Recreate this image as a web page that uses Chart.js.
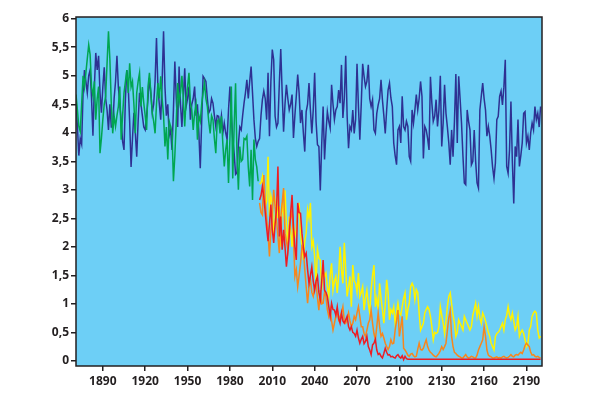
<!DOCTYPE html>
<html>
<head>
<meta charset="utf-8">
<script src="https://cdn.jsdelivr.net/npm/chart.js@4/dist/chart.umd.min.js"></script>
<style>
  html, body { margin: 0; padding: 0; background: #ffffff; }
  canvas { display: block; }
</style>
</head>
<body>
<canvas id="chart" width="600" height="398"></canvas>
<script>
// tick positions
var xTicks = [1890, 1920, 1950, 1980, 2010, 2040, 2070, 2100, 2130, 2160, 2190];
var yTicks = [0, 0.5, 1, 1.5, 2, 2.5, 3, 3.5, 4, 4.5, 5, 5.5, 6];

// first year of each series, one value per year after that
var navyStart = 1871;
var greenStart = 1871;
var scenarioStart = 2001;

var navy = [
  4.6, 4.1, 3.6, 3.9, 3.8, 4.7, 5.1, 4.9, 4.7, 5.0,
  5.1, 4.6, 3.95, 4.8, 5.4, 5.1, 5.35, 4.7, 4.35, 4.8,
  5.15, 4.6, 4.4, 4.05, 4.5, 4.1, 4.1, 4.6, 4.9, 5.35,
  4.8, 4.5, 4.2, 3.85, 3.7, 4.6, 5.1, 4.8, 4.2, 3.4,
  3.9, 4.35, 4.0, 3.58, 4.2, 4.7, 4.5, 4.3, 4.1, 4.05,
  4.3, 4.6, 4.96, 4.7, 4.35, 4.5, 4.9, 5.66, 4.8, 4.5,
  4.23, 4.9, 5.78, 4.8, 4.3, 4.5, 3.95, 4.05, 3.7, 4.4,
  5.25, 4.6, 4.1, 5.16, 4.5, 4.1, 4.6, 5.13, 4.46, 4.6,
  4.81, 4.23, 4.5, 4.6, 4.81, 4.3, 4.5, 4.0, 3.38, 4.2,
  4.99, 4.95, 4.9, 4.6, 4.35, 4.4, 4.6, 4.52, 4.3, 4.11,
  4.3, 4.29, 4.1, 4.3, 4.0, 4.17, 4.0, 3.88, 4.4, 4.81,
  4.3, 3.9, 3.64, 3.27, 3.3, 3.8, 4.1, 4.05, 4.3, 4.52,
  4.7, 4.93, 4.6, 4.9, 5.16, 4.7, 4.23, 3.9, 3.76, 3.85,
  3.9, 4.3, 4.58, 4.73, 4.6, 4.23, 5.05, 3.94, 4.9, 5.46,
  5.28, 4.29, 4.1, 4.17, 4.87, 5.47, 4.7, 4.02, 4.5, 4.84,
  4.6, 4.4, 4.5, 4.67, 3.91, 4.3, 4.64, 5.02, 4.7, 4.17,
  4.4, 4.0, 3.67, 4.37, 4.5, 4.87, 4.4, 3.99, 4.4, 5.05,
  4.2, 3.79, 3.76, 2.99, 3.8, 4.46, 3.53, 4.0, 4.37, 4.2,
  4.08, 4.84, 4.5, 4.23, 4.4, 4.46, 4.75, 4.52, 5.19, 4.26,
  4.6, 5.35, 4.3, 3.73, 4.11, 4.05, 4.4, 3.99, 4.23, 5.21,
  4.46, 3.88, 4.5, 5.21, 4.99, 4.81, 4.9, 5.19, 4.6, 4.46,
  4.58, 4.05, 3.99, 4.34, 4.49, 4.6, 4.93, 4.58, 4.3, 3.99,
  4.4, 4.75, 4.87, 4.61, 4.46, 3.82, 3.6, 3.44, 4.05, 4.11,
  3.82, 4.64, 4.11, 4.05, 4.2, 4.11, 3.58, 3.5, 4.4, 4.17,
  4.4, 4.67, 4.4, 4.6, 4.9, 4.64, 3.55, 4.11, 4.05, 3.9,
  3.7, 4.98, 4.52, 4.2, 4.29, 4.58, 4.11, 4.4, 5.0, 3.76,
  4.17, 4.84, 4.34, 4.1, 3.82, 3.44, 4.05, 3.58, 4.2, 5.03,
  3.82, 4.99, 4.6, 4.17, 3.6, 3.12, 3.09, 4.4, 4.2, 4.05,
  3.44, 3.5, 4.05, 3.5, 3.12, 3.03, 4.4, 4.64, 4.87, 4.6,
  4.4, 3.94, 4.11, 3.94, 3.7, 3.4, 3.2, 3.47, 4.23, 4.29,
  4.64, 4.73, 4.49, 4.8, 5.28, 3.41, 3.29, 3.7, 4.55, 3.5,
  2.76, 3.76, 3.58, 4.23, 3.41, 3.6, 3.82, 4.34, 4.37, 3.82,
  3.94, 3.7, 4.0, 4.17, 4.05, 4.46, 4.23, 4.34, 4.1, 4.46
];

var green = [
  4.67, 4.4, 4.11, 4.02, 4.5, 5.0, 4.8, 5.05, 5.3, 5.54,
  5.37, 4.81, 4.64, 4.9, 4.23, 4.6, 4.81, 3.64, 3.9, 4.23,
  4.5, 4.64, 5.22, 5.78, 5.28, 4.5, 3.99, 4.3, 4.11, 4.3,
  4.46, 4.81, 3.88, 4.3, 4.7, 4.9, 5.1, 4.7, 5.22, 4.8,
  4.9, 4.5, 3.99, 4.7, 4.9, 5.05, 4.46, 4.8, 4.52, 4.3,
  4.05, 4.81, 5.05, 4.7, 4.35, 4.2, 3.99, 4.5, 4.87, 4.6,
  4.99, 4.6, 4.3, 3.76, 4.1, 3.53, 4.2, 4.11, 4.0, 3.15,
  3.6, 4.2, 4.87, 4.52, 4.7, 5.0, 4.6, 4.11, 4.6, 4.81,
  5.05, 4.52, 4.4, 4.05, 4.35, 4.5, 3.88, 4.3, 4.2, 4.5,
  4.7, 4.87, 4.6, 4.46, 4.2, 3.99, 4.3, 4.23, 3.9, 3.64,
  4.2, 4.23, 3.99, 4.29, 3.8, 3.41, 3.7, 3.88, 3.12, 3.9,
  4.81, 3.2, 4.11, 4.87, 3.6, 3.0, 3.76, 3.5, 3.53, 3.9,
  3.88, 3.94, 3.4, 3.06, 3.7, 2.82, 3.88, 3.53, 3.4, 3.15
];

var yellow = [
  3.1, 3.12, 3.23, 2.9, 2.7, 2.8, 3.58, 2.53, 2.9, 2.77,
  2.2, 2.5, 2.88, 2.5, 2.71, 2.0, 2.77, 2.6, 2.99, 2.4,
  2.0, 2.53, 2.3, 2.0, 2.4, 2.18, 2.3, 2.53, 2.77, 2.24,
  2.0, 1.77, 2.1, 2.24, 2.65, 2.5, 2.77, 2.0, 2.1, 1.83,
  1.36, 1.95, 1.8, 1.77, 1.24, 1.6, 1.48, 1.54, 1.3, 1.13,
  1.5, 1.71, 1.24, 1.4, 1.48, 1.19, 1.5, 2.0, 1.6, 1.36,
  2.07, 1.6, 1.13, 1.3, 1.48, 0.95, 1.68, 1.4, 1.36, 1.2,
  1.54, 1.13, 1.2, 1.3, 0.89, 1.1, 1.24, 1.0, 0.84, 1.25,
  1.5, 1.68, 0.95, 1.1, 0.9, 1.36, 1.1, 0.9, 0.66, 1.0,
  1.42, 1.2, 0.72, 0.9, 0.84, 0.95, 0.66, 0.85, 1.01, 0.84,
  0.8, 0.95, 1.1, 1.19, 0.72, 0.9, 1.01, 1.3, 1.36, 1.3,
  1.07, 1.25, 1.2, 0.84, 0.54, 0.6, 0.66, 0.84, 0.9, 0.95,
  0.9, 0.78, 0.6, 0.37, 0.5, 0.48, 0.5, 0.6, 0.95, 0.8,
  0.66, 0.48, 0.7, 0.95, 1.13, 1.19, 1.0, 0.8, 0.66, 0.43,
  0.5, 0.72, 0.66, 0.6, 0.54, 0.78, 0.72, 0.66, 0.6, 0.54,
  0.6, 0.8, 0.9, 1.01, 0.78, 0.95, 0.75, 0.66, 0.84, 0.78,
  0.7, 0.6, 0.5, 0.43, 0.31, 0.25, 0.19, 0.43, 0.48, 0.5,
  0.54, 0.6, 0.66, 0.54, 0.72, 0.8, 0.95, 0.8, 0.72, 0.84,
  0.7, 0.54, 0.6, 0.78, 0.43, 0.5, 0.54, 0.48, 0.37, 0.25,
  0.3, 0.54, 0.6, 0.78, 0.84, 0.87, 0.84, 0.54, 0.4, 0.43
];

var orange = [
  2.77, 2.6, 2.56, 3.26, 2.8, 2.5, 2.24, 1.83, 2.3, 2.6,
  3.0, 2.7, 2.47, 2.18, 1.89, 2.5, 2.77, 3.03, 2.24, 2.1,
  1.95, 2.36, 2.5, 2.65, 2.18, 1.48, 1.6, 1.3, 1.5, 1.71,
  2.0, 1.95, 1.6, 1.3, 1.01, 1.3, 1.42, 1.2, 1.13, 1.3,
  1.36, 1.1, 0.89, 1.24, 1.0, 1.01, 1.2, 1.13, 0.9, 0.78,
  0.9, 0.7, 0.54, 0.66, 0.78, 0.89, 0.72, 0.78, 0.84, 0.95,
  0.7, 0.66, 0.72, 0.84, 0.7, 0.6, 0.66, 0.78, 0.72, 0.84,
  0.95, 0.78, 0.6, 0.6, 0.48, 0.43, 0.54, 0.66, 0.72, 0.89,
  0.66, 0.48, 0.37, 0.6, 0.84, 0.6, 0.43, 0.48, 0.4, 0.31,
  0.25, 0.2, 0.25, 0.37, 0.3, 0.31, 0.54, 0.7, 0.89, 0.43,
  0.6, 0.78, 0.22, 0.19, 0.15, 0.1, 0.08, 0.12, 0.13, 0.09,
  0.07, 0.08, 0.2, 0.31, 0.2, 0.19, 0.22, 0.3, 0.37, 0.25,
  0.19, 0.15, 0.13, 0.1, 0.08, 0.07, 0.1, 0.13, 0.18, 0.25,
  0.2, 0.25, 0.31, 0.54, 0.75, 0.88, 0.43, 0.25, 0.15, 0.13,
  0.1, 0.08, 0.07, 0.05, 0.05, 0.08, 0.11, 0.07, 0.05, 0.06,
  0.08, 0.07, 0.05, 0.05, 0.1, 0.19, 0.25, 0.31, 0.37, 0.6,
  0.43, 0.19, 0.1, 0.08, 0.07, 0.05, 0.05, 0.06, 0.07, 0.05,
  0.06, 0.05, 0.07, 0.08, 0.06, 0.05, 0.06, 0.08, 0.11, 0.08,
  0.07, 0.1, 0.11, 0.1, 0.13, 0.15, 0.13, 0.19, 0.27, 0.31,
  0.28, 0.25, 0.15, 0.1, 0.11, 0.08, 0.07, 0.08, 0.06, 0.05
];

var red = [
  2.82, 2.9, 3.06, 2.88, 2.6, 2.33, 2.1, 2.4, 2.74, 2.3,
  2.07, 2.4, 2.65, 3.41, 2.18, 2.53, 1.95, 2.3, 2.0, 1.65,
  1.9, 2.18, 2.6, 2.91, 2.36, 2.0, 1.77, 2.77, 2.6, 2.59,
  2.24, 2.0, 1.83, 1.89, 1.6, 1.36, 1.5, 1.65, 1.4, 1.24,
  1.4, 1.48, 1.2, 1.07, 1.4, 1.77, 1.24, 1.2, 1.13, 0.95,
  0.78, 1.01, 0.9, 0.89, 0.8, 0.95, 0.75, 0.66, 0.84, 0.7,
  0.66, 0.72, 0.78, 0.6, 0.54, 0.6, 0.5, 0.48, 0.43, 0.54,
  0.4, 0.31, 0.38, 0.43, 0.3, 0.34, 0.43, 0.25, 0.19, 0.11,
  0.28, 0.31, 0.38, 0.19, 0.11, 0.13, 0.08, 0.05, 0.13, 0.22,
  0.15, 0.1, 0.11, 0.07, 0.08, 0.06, 0.05, 0.09, 0.11, 0.07,
  0.05, 0.09, 0.02, 0.08, 0.04, 0.03, 0.03, 0.03, 0.03, 0.03,
  0.03, 0.03, 0.03, 0.03, 0.03, 0.03, 0.03, 0.03, 0.03, 0.03,
  0.03, 0.03, 0.03, 0.03, 0.03, 0.03, 0.03, 0.03, 0.03, 0.03,
  0.03, 0.03, 0.03, 0.03, 0.03, 0.03, 0.03, 0.03, 0.03, 0.03,
  0.03, 0.03, 0.03, 0.03, 0.03, 0.03, 0.03, 0.03, 0.03, 0.03,
  0.03, 0.03, 0.03, 0.03, 0.03, 0.03, 0.03, 0.03, 0.03, 0.03,
  0.03, 0.03, 0.03, 0.03, 0.03, 0.03, 0.03, 0.03, 0.03, 0.03,
  0.03, 0.03, 0.03, 0.03, 0.03, 0.03, 0.03, 0.03, 0.03, 0.03,
  0.03, 0.03, 0.03, 0.03, 0.03, 0.03, 0.03, 0.03, 0.03, 0.03,
  0.03, 0.03, 0.03, 0.03, 0.03, 0.03, 0.03, 0.03, 0.03, 0.03
];

function toPoints(start, values) {
  return values.map(function(v, i) { return { x: start + i, y: v }; });
}

function line(values, start, color) {
  return {
    data: toPoints(start, values),
    borderColor: color,
    borderWidth: 1.5,
    pointRadius: 0,
    tension: 0,
    fill: false
  };
}

var ink = '#231f20';
var tickFont = { family: '"Open Sans", sans-serif', size: 12, weight: 'bold' };

// light blue plot background and the frame round it
var plotBox = {
  id: 'plotBox',
  beforeDraw: function(chart) {
    var a = chart.chartArea, c = chart.ctx;
    c.save();
    c.fillStyle = '#6dcff6';
    c.fillRect(a.left, a.top, a.right - a.left, a.bottom - a.top);
    c.restore();
  },
  afterDraw: function(chart) {
    var a = chart.chartArea, c = chart.ctx;
    c.save();
    c.strokeStyle = ink;
    c.lineWidth = 1.5;
    c.strokeRect(a.left, a.top, a.right - a.left, a.bottom - a.top);
    c.restore();
  }
};

var ctx = document.getElementById('chart').getContext('2d');
var myChart = new Chart(ctx, {
  type: 'line',
  data: {
    datasets: [
      line(red, scenarioStart, '#ed1c24'),
      line(orange, scenarioStart, '#f7861d'),
      line(yellow, scenarioStart, '#fff200'),
      line(green, greenStart, '#00a651'),
      line(navy, navyStart, '#2e3192')
    ]
  },
  options: {
    responsive: false,
    devicePixelRatio: 1,
    animation: false,
    layout: { padding: { left: 0, right: 58, top: 17, bottom: 0 } },
    plugins: {
      legend: { display: false },
      tooltip: { enabled: false }
    },
    scales: {
      x: {
        type: 'linear',
        min: 1871,
        max: 2201,
        afterBuildTicks: function(axis) {
          axis.ticks = xTicks.map(function(v) { return { value: v }; });
        },
        afterFit: function(axis) { axis.height = 32; },
        ticks: {
          color: ink,
          font: tickFont,
          padding: 3,
          maxRotation: 0,
          autoSkip: false,
          callback: function(v) { return String(v); }
        },
        grid: { drawOnChartArea: false, tickLength: 5, color: ink, lineWidth: 1.5 },
        border: { display: false }
      },
      y: {
        min: -0.09,
        max: 6.03,
        afterBuildTicks: function(axis) {
          axis.ticks = yTicks.map(function(v) { return { value: v }; });
        },
        afterFit: function(axis) { axis.width = 76; },
        ticks: {
          color: ink,
          font: tickFont,
          padding: 2,
          callback: function(v) { return String(v).replace('.', ','); }
        },
        grid: { drawOnChartArea: false, tickLength: 5, color: ink, lineWidth: 1.5 },
        border: { display: false }
      }
    }
  },
  plugins: [plotBox]
});
</script>
</body>
</html>
